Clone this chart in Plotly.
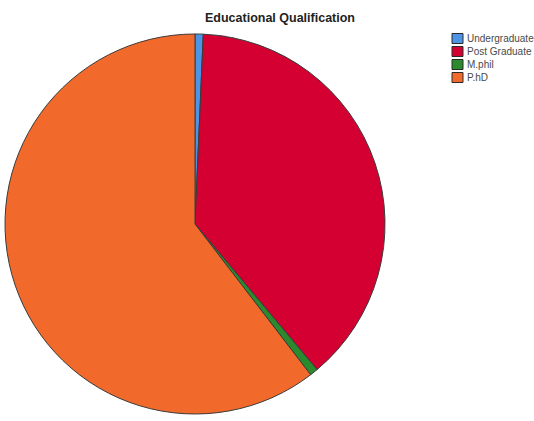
import plotly.graph_objects as go

# Educational qualification of respondents (counts)
categories = ["Undergraduate", "Post Graduate", "M.phil", "P.hD"]
counts = [1, 55, 1, 87]
colors = ["#4d94e4", "#d50032", "#2b8a2e", "#f26a2b"]

W, H = 534, 421

fig = go.Figure(
    go.Pie(
        labels=categories,
        values=counts,
        sort=False,
        direction="clockwise",
        rotation=0,
        textinfo="none",
        hoverinfo="label+value+percent",
        marker=dict(colors=colors, line=dict(color="#3a3a3a", width=1)),
        domain=dict(x=[5 / W, 385 / W], y=[(H - 418) / H, (H - 30) / H]),
        showlegend=False,
    )
)

# Compact legend: colour swatch plus label for each category
shapes = []
annotations = []
row_top = 33.5
row_step = 13.0
for i, (name, col) in enumerate(zip(categories, colors)):
    top = row_top + i * row_step
    shapes.append(
        dict(
            type="rect",
            xref="paper", yref="paper",
            x0=452 / W, x1=463 / W,
            y0=(H - top) / H, y1=(H - top - 10) / H,
            fillcolor=col,
            line=dict(color="#2a2a2a", width=1),
        )
    )
    annotations.append(
        dict(
            text=name,
            xref="paper", yref="paper",
            x=465 / W, y=(H - top - 5) / H,
            xanchor="left", yanchor="middle",
            showarrow=False,
            font=dict(family="Liberation Sans, Arial, sans-serif", size=10, color="#4a4a4a"),
        )
    )

fig.update_layout(
    width=W,
    height=H,
    margin=dict(l=0, r=0, t=0, b=0),
    paper_bgcolor="white",
    plot_bgcolor="white",
    title=dict(
        text="<b>Educational Qualification</b>",
        x=280 / W, xanchor="center",
        y=(H - 18) / H, yanchor="middle",
        font=dict(family="Liberation Sans, Arial, sans-serif", size=12.5, color="#222222"),
    ),
    shapes=shapes,
    annotations=annotations,
)

fig.write_html("out.html")
